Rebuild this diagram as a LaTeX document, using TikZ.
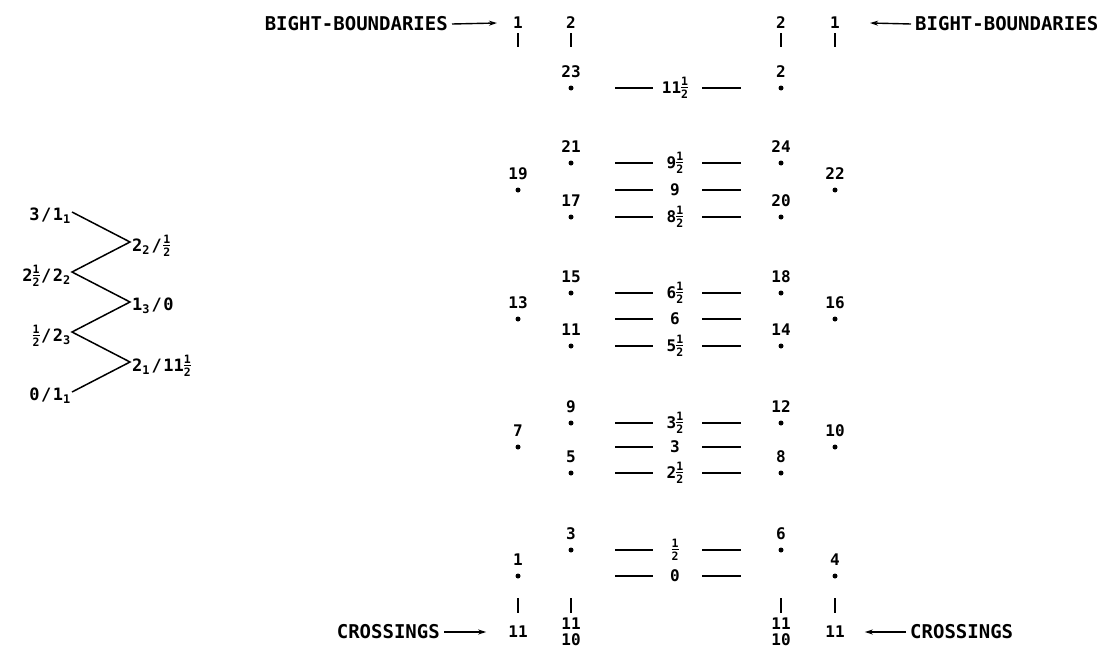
\documentclass[tikz,border=0pt]{standalone}
\usepackage{fontspec}
\setmainfont{DejaVu Sans Mono}
\usetikzlibrary{arrows.meta}
% stacked one-half: small 1 over a bar over small 2
\newcommand\hf{\raisebox{-4.6pt}{\fontsize{11.5}{11.5}\selectfont\bfseries
  \vbox{\offinterlineskip\halign{\hfil##\hfil\cr 1\cr
    \noalign{\kern1.6pt}\rule{7pt}{1pt}\cr\noalign{\kern1.6pt}2\cr}}}}
\newcommand\slashsep{\kern1.5pt/\kern1.5pt}
\begin{document}
\begin{tikzpicture}[x=1pt,y=-1pt,
  num/.style={font=\fontsize{16}{16}\selectfont\bfseries, inner sep=0pt},
  zlab/.style={font=\fontsize{17}{17}\selectfont\bfseries, inner sep=1pt},
  captext/.style={font=\fontsize{19}{19}\selectfont\bfseries, inner sep=0pt},
  dot/.style={circle, fill, inner sep=0pt, minimum size=5pt},
  hl/.style={line width=1.4pt},
  bar/.style={line width=1.8pt},
  zz/.style={line width=1.5pt, line join=miter},
  pointer/.style={line width=1.4pt, -{Stealth[length=8pt,width=5pt]}}]
\useasboundingbox (0,0) rectangle (1101,648);

% ---- zigzag of bight labels ----
\coordinate (zl1) at (72,212);
\coordinate (zl2) at (72,272);
\coordinate (zl3) at (72,332);
\coordinate (zl4) at (72,392);
\coordinate (zr1) at (130,242);
\coordinate (zr2) at (130,302);
\coordinate (zr3) at (130,362);
\draw[zz] (zl1) -- (zr1) -- (zl2) -- (zr2) -- (zl3) -- (zr3) -- (zl4);
\node[zlab, anchor=east] (q1) at (72,216) {3\slashsep1\textsubscript{1}};
\node[zlab, anchor=east] (q2) at (72,276) {2\hf\slashsep2\textsubscript{2}};
\node[zlab, anchor=east] (q3) at (72,336) {\hf\slashsep2\textsubscript{3}};
\node[zlab, anchor=east] (q4) at (72,396) {0\slashsep1\textsubscript{1}};
\node[zlab, anchor=west] (r1) at (131,246) {2\textsubscript{2}\slashsep\hf};
\node[zlab, anchor=west] (r2) at (131,306) {1\textsubscript{3}\slashsep0};
\node[zlab, anchor=west] (r3) at (131,366) {2\textsubscript{1}\slashsep11\hf};

% ---- bight boundaries ----
\node[num] (b1l) at (518,23) {1};
\node[num] (b2l) at (571,23) {2};
\node[num] (b2r) at (781,23) {2};
\node[num] (b1r) at (835,23) {1};
\foreach \x in {518,571,781,835} \draw[bar] (\x,33) -- (\x,47);
\node[captext, anchor=east] (bbl) at (448,24) {BIGHT-BOUNDARIES};
\node[captext, anchor=west] (bbr) at (915,24) {BIGHT-BOUNDARIES};
\draw[pointer] ([xshift=4pt]bbl.east) -- ([xshift=-16pt]b1l.west);
\draw[pointer] ([xshift=-4pt]bbr.west) -- ([xshift=30pt]b1r.east);

% ---- numbered points ----
\foreach \n/\x/\y in {23/571/88, 2/781/88,
    21/571/163, 24/781/163, 19/518/190, 22/835/190, 17/571/217, 20/781/217,
    15/571/293, 18/781/293, 13/518/319, 16/835/319, 11/571/346, 14/781/346,
    9/571/423, 12/781/423, 7/518/447, 10/835/447, 5/571/473, 8/781/473,
    3/571/550, 6/781/550, 1/518/576, 4/835/576} {
  \node[dot] (p\n) at (\x,\y) {};
  \node[num] (t\n) at (\x,\y-16.5) {\n};
}

% ---- crossing values between the columns ----
\foreach \nm/\y/\t in {m115/88/11\hf,
    m95/163/9\hf, m9/190/9, m85/217/8\hf,
    m65/293/6\hf, m6/319/6, m55/346/5\hf,
    m35/423/3\hf, m3/447/3, m25/473/2\hf,
    m05/550/\hf, m0/576/0} {
  \node[num] (\nm) at (675,\y) {\t};
  \draw[hl] (615,\y) -- (653,\y);
  \draw[hl] (702,\y) -- (741,\y);
}

% ---- crossings ----
\foreach \x in {518,571,781,835} \draw[bar] (\x,598) -- (\x,613);
\node[num] (cA) at (518,632) {11};
\node[num] (cB) at (571,624) {11};
\node[num] (cB0) at (571,640) {10};
\node[num] (cC) at (781,624) {11};
\node[num] (cC0) at (781,640) {10};
\node[num] (cD) at (835,632) {11};
\node[captext, anchor=east] (crl) at (440,632) {CROSSINGS};
\node[captext, anchor=west] (crr) at (910,632) {CROSSINGS};
\draw[pointer] ([xshift=4pt]crl.east) -- ([xshift=-22pt]cA.west);
\draw[pointer] ([xshift=-4pt]crr.west) -- ([xshift=20pt]cD.east);
\end{tikzpicture}
\end{document}
